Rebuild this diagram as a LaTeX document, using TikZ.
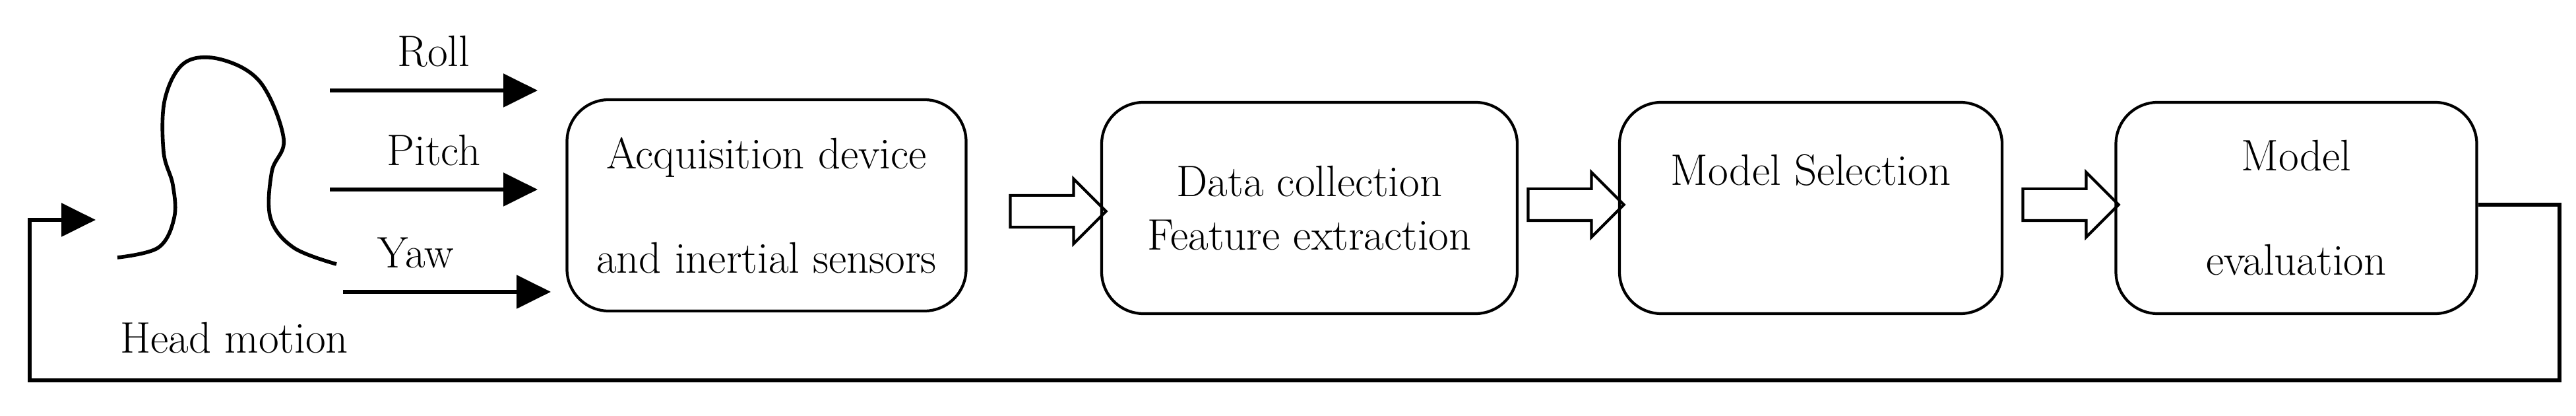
\documentclass[tikz,border=0pt]{standalone}
\usetikzlibrary{shapes.arrows, arrows.meta}
\begin{document}
\begin{tikzpicture}[
            >=latex,
            line width=1.2pt,
            every node/.style={font=\fontsize{19}{23}\selectfont},
            block/.style={draw, rounded corners=18pt, minimum height=3.2cm, align=center},
            bigarrow/.style={single arrow, draw, minimum height=1.45cm, inner sep=0.22cm, single arrow head extend=0.25cm, font=\tiny},
            axis/.style={->, line width=1.6pt, shorten >=0pt, >={Triangle[length=0.52cm, width=0.5cm]}}
        ]
        \useasboundingbox (0,0) rectangle (39.05,6.3);

        % Head
        \draw[line width=1.6pt] plot[smooth, tension=0.6] coordinates {
            (1.78,2.40) (2.40,2.55) (2.64,3.00) (2.62,3.50) (2.48,4.00) (2.50,4.80)
            (2.80,5.35) (3.35,5.40) (3.95,5.05) (4.30,4.20) (4.12,3.70) (4.10,3.00)
            (4.45,2.55) (5.10,2.30)};
        \coordinate (head) at (1.45,2.97);
        \node (hm) at (3.55,1.18) {Head motion};

        % Blocks
        \node[block, minimum width=6.05cm] (acq) at (11.62,3.19) {Acquisition device\\[22pt]and inertial sensors};
        \node[block, minimum width=6.3cm] (data) at (19.85,3.15) {Data collection\\Feature extraction};
        \node[block, minimum width=5.8cm] (sel) at (27.45,3.15) {Model Selection\\[10pt]};
        \node[block, minimum width=5.47cm] (eval) at (34.81,3.15) {Model\\[22pt]evaluation};

        % Angles
        \coordinate (r0) at (5.0,4.93);  \coordinate (r1) at (8.15,4.93);
        \coordinate (p0) at (5.0,3.43);  \coordinate (p1) at (8.15,3.43);
        \coordinate (y0) at (5.2,1.88);  \coordinate (y1) at (8.35,1.88);
        \draw[axis] (r0) -- node[above=6pt] {Roll} (r1);
        \draw[axis] (p0) -- node[above=6pt] {Pitch} (p1);
        \draw[axis] (y0) -- node[above=6pt, pos=0.35] {Yaw} (y1);

        % Flow
        \node[bigarrow] (a1) at (15.92,3.10) {};
        \node[bigarrow] (a2) at (23.77,3.20) {};
        \node[bigarrow] (a3) at (31.27,3.20) {};

        % Feedback
        \coordinate (fb) at (38.80,3.20);
        \draw[axis] (eval.east |- fb) -- (fb) |- (0.45,0.54) |- (head);
\end{tikzpicture}
\end{document}
